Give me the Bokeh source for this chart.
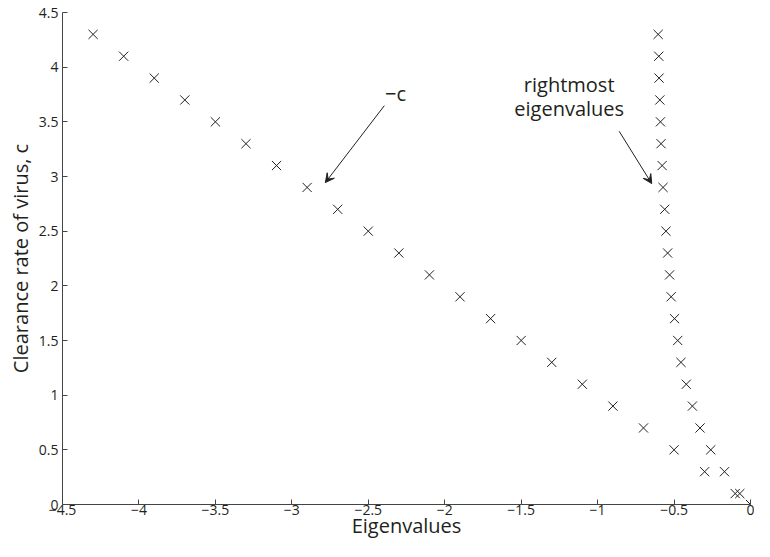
from bokeh.plotting import figure
from bokeh.models import Range1d, FixedTicker, Arrow, VeeHead
from bokeh.core.properties import value
from bokeh.embed import file_html
from bokeh.resources import INLINE

# ---- data ----
c_values = [0.1, 0.3, 0.5, 0.7, 0.9, 1.1, 1.3, 1.5, 1.7, 1.9, 2.1,
            2.3, 2.5, 2.7, 2.9, 3.1, 3.3, 3.5, 3.7, 3.9, 4.1, 4.3]
neg_c_eig = [-0.1, -0.3, -0.5, -0.7, -0.9, -1.1, -1.3, -1.5, -1.7, -1.9, -2.1,
             -2.3, -2.5, -2.7, -2.9, -3.1, -3.3, -3.5, -3.7, -3.9, -4.1, -4.3]
rightmost_c = [0.0] + c_values
rightmost_eig = [0.0, -0.07, -0.17, -0.26, -0.33, -0.38, -0.42, -0.455, -0.476, -0.497,
                 -0.519, -0.529, -0.542, -0.553, -0.561, -0.572, -0.578, -0.585,
                 -0.589, -0.593, -0.598, -0.600, -0.604]

x_ticks = [-4.5, -4.0, -3.5, -3.0, -2.5, -2.0, -1.5, -1.0, -0.5, 0.0]
x_tick_labels = ["\u22124.5", "\u22124", "\u22123.5", "\u22123", "\u22122.5", "\u22122",
                 "\u22121.5", "\u22121", "\u22120.5", "0"]
y_ticks = [0.0, 0.5, 1.0, 1.5, 2.0, 2.5, 3.0, 3.5, 4.0, 4.5]
y_tick_labels = ["0", "0.5", "1", "1.5", "2", "2.5", "3", "3.5", "4", "4.5"]

ann_neg_c = {"text": "\u2212c", "x": -2.39, "y": 3.76,
             "arrow": (-2.395, 3.648, -2.781, 2.944)}
ann_right = {"text": ["rightmost", "eigenvalues"], "x": -1.186, "y": [3.84, 3.62],
             "arrow": (-0.859, 3.414, -0.646, 2.935)}

FONT = "Open Sans"
INK = "#231f20"

p = figure(width=754, height=541, output_backend="svg", toolbar_location=None,
           x_range=Range1d(-4.5, 0), y_range=Range1d(0, 4.5),
           min_border_left=62, min_border_right=4, min_border_top=12, min_border_bottom=30)
p.outline_line_color = None
p.grid.visible = False
p.background_fill_color = "white"
p.border_fill_color = "white"

p.scatter(neg_c_eig, c_values, marker="x", size=13, line_color=INK, line_width=1)
p.scatter(rightmost_eig, rightmost_c, marker="x", size=13, line_color=INK, line_width=1)

for ax, ticks, labels in ((p.xaxis[0], x_ticks, x_tick_labels), (p.yaxis[0], y_ticks, y_tick_labels)):
    ax.ticker = FixedTicker(ticks=ticks)
    ax.major_label_overrides = {t: l for t, l in zip(ticks, labels)}
    ax.major_tick_in = 5
    ax.major_tick_out = 0
    ax.minor_tick_line_color = None
    ax.axis_line_color = "#444444"
    ax.major_tick_line_color = "#444444"
    ax.major_label_text_font = FONT
    ax.major_label_text_font_size = "14px"
    ax.major_label_text_color = INK
    ax.axis_label_text_font = FONT
    ax.axis_label_text_font_size = "20px"
    ax.axis_label_text_font_style = "normal"
    ax.axis_label_text_color = INK

p.xaxis.axis_label = "Eigenvalues"
p.yaxis.axis_label = "Clearance rate of virus, c"
p.xaxis.major_label_standoff = 0
p.yaxis.major_label_standoff = 4
p.xaxis.axis_label_standoff = -6
p.yaxis.axis_label_standoff = 2

p.text(x=[ann_neg_c["x"]], y=[ann_neg_c["y"]], text=[ann_neg_c["text"]],
       text_font=value(FONT), text_font_size="20px", text_color=INK,
       text_align="left", text_baseline="middle")
p.text(x=[ann_right["x"]] * 2, y=ann_right["y"], text=ann_right["text"],
       text_font=value(FONT), text_font_size="20px", text_color=INK,
       text_align="center", text_baseline="middle")

for a in (ann_neg_c, ann_right):
    xs, ys, xe, ye = a["arrow"]
    p.add_layout(Arrow(end=VeeHead(size=9, fill_color=INK, line_color=INK, line_width=1),
                       x_start=xs, y_start=ys, x_end=xe, y_end=ye,
                       line_color=INK, line_width=1))

open("out.html", "w").write(file_html(p, INLINE))
